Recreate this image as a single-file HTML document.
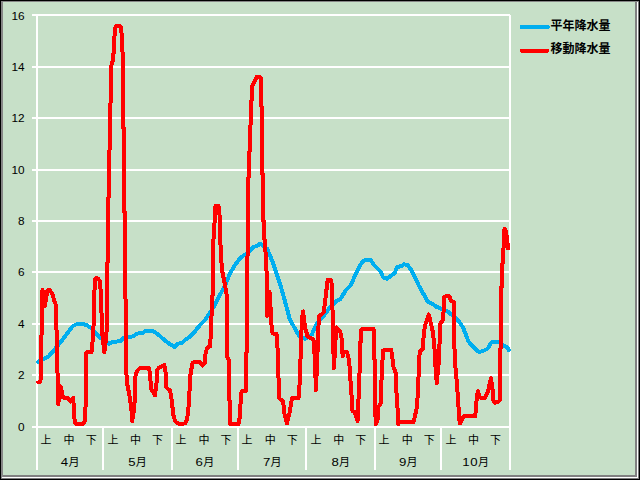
<!DOCTYPE html>
<html><head><meta charset="utf-8"><title>chart</title>
<style>
html,body{margin:0;padding:0;background:#c7e0c8;}
body{width:640px;height:480px;overflow:hidden;position:relative;font-family:"Liberation Sans",sans-serif;}
svg{position:absolute;left:0;top:0;display:block}
.num{font-family:"Liberation Sans",sans-serif;font-size:11.8px;fill:#000}
.mnum{font-family:"Liberation Sans",sans-serif;font-size:11px;fill:#000}
.leg{font-family:"Liberation Sans","Noto Sans CJK JP",sans-serif;font-size:12px;fill:#000;font-weight:bold}
.jp{font-family:"Liberation Sans","Noto Sans CJK JP",sans-serif;font-size:11px;fill:#000}
</style></head><body>
<svg width="640" height="480" viewBox="0 0 640 480">
<rect x="0" y="0" width="640" height="480" fill="#c7e0c8"/>
<rect x="32" y="14" width="478" height="2" fill="#fff"/>
<rect x="32" y="66" width="478" height="2" fill="#fff"/>
<rect x="32" y="117" width="478" height="2" fill="#fff"/>
<rect x="32" y="169" width="478" height="2" fill="#fff"/>
<rect x="32" y="220" width="478" height="2" fill="#fff"/>
<rect x="32" y="271" width="478" height="2" fill="#fff"/>
<rect x="32" y="323" width="478" height="2" fill="#fff"/>
<rect x="32" y="374" width="478" height="2" fill="#fff"/>
<rect x="32" y="426" width="478" height="2" fill="#fff"/>
<rect x="36" y="14" width="2" height="456" fill="#fff"/>
<rect x="509" y="15" width="2" height="455" fill="#fff"/>
<rect x="102" y="428" width="2" height="42" fill="#fff"/>
<rect x="171" y="428" width="2" height="42" fill="#fff"/>
<rect x="237" y="428" width="2" height="42" fill="#fff"/>
<rect x="305" y="428" width="2" height="42" fill="#fff"/>
<rect x="374" y="428" width="2" height="42" fill="#fff"/>
<rect x="440" y="428" width="2" height="42" fill="#fff"/>
<polyline shape-rendering="crispEdges" fill="none" stroke="#00aeef" stroke-width="4.00" stroke-linejoin="round" stroke-linecap="round" points="38.10,361.90 43.50,359.00 48.75,356.25 55.00,349.00 61.25,341.25 66.00,335.00 72.50,326.25 76.00,324.50 80.00,323.75 83.00,324.00 86.25,325.00 91.25,328.00 95.00,332.00 100.00,337.50 104.50,341.00 108.75,343.75 112.50,341.90 120.00,341.25 123.75,338.00 128.00,337.00 133.75,336.25 136.25,333.75 142.50,333.00 145.00,331.25 153.75,331.50 158.75,335.00 165.00,340.60 171.25,345.00 174.40,346.90 177.50,343.75 181.90,343.00 185.60,339.40 188.75,337.50 195.00,331.25 200.00,325.00 205.00,320.00 213.75,307.00 220.30,294.40 226.60,281.90 229.70,274.00 235.20,264.70 240.60,257.70 245.30,254.50 250.00,250.60 253.90,246.70 257.00,246.00 260.20,243.60 262.50,245.20 267.20,249.00 271.90,260.00 276.60,274.00 281.25,288.00 285.20,302.20 287.30,309.80 289.60,318.60 291.00,321.20 295.30,329.40 299.40,336.25 305.00,338.75 311.90,334.40 315.00,327.50 317.50,322.50 322.50,317.50 330.00,307.50 336.25,301.25 340.00,299.50 346.25,289.70 351.00,285.00 355.60,274.00 359.50,266.25 363.40,260.80 366.50,259.70 370.50,260.00 374.40,265.50 380.60,271.70 383.00,277.20 386.90,278.75 392.30,274.80 394.70,273.30 397.00,267.00 401.00,266.25 404.00,264.40 407.20,264.70 410.30,268.60 415.00,277.50 419.00,286.00 424.70,296.10 427.50,301.70 431.70,303.40 436.60,306.90 441.25,308.75 447.50,311.25 451.25,314.40 457.50,319.40 458.75,321.25 463.10,327.50 466.90,337.50 468.75,341.90 473.75,347.50 478.75,351.90 482.50,351.25 487.50,348.75 491.25,342.50 493.75,341.90 498.75,341.90 503.75,345.60 507.50,347.50 508.75,350.00"/>
<polyline shape-rendering="crispEdges" fill="none" stroke="#ff0000" stroke-width="4.00" stroke-linejoin="round" stroke-linecap="round" points="38.20,382.50 40.40,381.50 41.00,374.00 41.30,345.00 41.80,320.00 42.00,292.00 42.50,290.00 44.80,306.50 47.30,291.00 48.20,290.00 49.80,290.30 52.30,293.50 54.40,301.00 56.20,306.00 56.30,320.00 57.20,360.00 57.80,385.00 58.20,404.00 60.60,386.50 63.10,397.50 67.50,398.20 70.60,401.50 73.10,397.80 73.90,408.00 74.60,421.00 75.50,423.50 83.80,423.50 85.20,420.00 85.70,400.00 86.20,375.00 86.30,353.00 87.20,352.00 91.50,352.00 92.30,350.00 92.60,338.00 93.60,325.00 94.30,301.00 94.70,281.00 95.60,278.30 97.60,278.30 99.60,280.50 100.40,286.00 100.80,296.00 101.30,306.00 101.90,325.00 102.60,337.00 104.40,352.30 106.20,337.00 106.90,325.00 107.00,264.00 108.20,261.00 108.30,198.00 109.00,196.00 109.00,151.00 110.00,149.00 110.00,104.00 111.00,102.00 111.20,66.00 112.00,63.00 113.00,60.00 113.80,50.00 114.40,37.00 115.20,28.00 116.60,25.90 119.40,25.90 120.80,27.50 121.60,34.00 122.20,46.00 122.80,58.00 122.80,127.00 123.90,128.50 123.90,211.00 124.90,212.50 125.00,265.00 125.90,325.00 126.25,370.00 126.90,382.50 129.40,395.00 131.25,407.50 132.25,421.00 134.40,407.50 135.00,382.50 135.70,373.50 138.00,370.00 140.00,368.10 148.75,368.10 149.70,372.00 151.25,388.75 155.00,395.50 156.60,382.50 157.10,370.50 158.75,368.00 164.40,365.20 165.40,370.00 166.25,387.50 170.00,390.50 171.90,401.00 173.10,413.75 175.00,421.00 177.50,423.30 181.25,424.30 185.00,423.30 187.00,420.00 188.30,410.00 189.40,395.00 190.00,377.50 191.25,370.00 192.50,363.00 194.00,362.00 199.40,362.00 202.50,365.50 205.00,362.50 205.60,352.50 207.50,347.50 210.00,346.25 210.60,337.50 211.25,320.00 212.10,308.00 213.10,278.00 213.10,246.00 214.40,225.00 215.00,215.00 215.10,207.00 215.60,205.80 218.20,205.80 218.70,207.00 219.00,213.00 220.00,217.00 220.00,230.00 220.60,247.50 221.25,260.00 222.50,272.50 225.00,285.00 226.90,296.00 226.90,320.00 227.50,357.50 228.75,360.00 229.20,380.00 229.40,400.00 230.40,402.50 230.40,424.20 238.50,424.20 239.40,420.00 240.60,402.50 241.25,392.50 242.20,391.00 245.60,391.00 246.25,389.00 246.25,353.00 246.90,351.50 246.90,262.00 248.10,250.00 248.10,178.50 249.40,176.50 249.40,152.00 250.30,150.00 250.30,125.50 251.20,123.50 251.20,101.50 252.00,100.00 252.00,87.00 253.00,84.50 256.60,77.10 259.80,76.90 261.00,78.50 261.00,106.00 261.90,107.50 261.90,173.00 262.80,174.50 262.80,220.00 263.90,221.50 263.90,239.00 265.00,240.50 265.90,260.00 266.90,277.50 267.10,316.00 269.60,292.00 271.25,320.00 271.90,332.00 273.00,333.50 276.50,333.80 277.50,347.50 278.10,357.50 278.10,370.00 278.75,382.50 279.40,398.50 283.10,401.25 284.40,413.75 286.90,423.50 289.40,413.75 291.25,402.50 292.00,398.20 298.50,398.20 299.50,385.00 300.00,370.00 300.00,360.00 301.25,357.50 301.25,337.50 301.90,320.00 303.10,311.40 305.00,327.50 307.50,336.25 311.90,338.75 313.50,340.00 315.00,360.00 315.90,390.40 317.30,357.00 318.20,338.00 318.75,316.00 320.00,315.50 323.75,312.50 325.60,297.50 326.90,286.25 327.60,280.10 331.00,280.10 331.90,285.00 332.50,310.00 333.10,325.00 333.40,350.00 333.90,368.00 335.00,350.00 335.80,335.00 336.60,327.50 340.00,331.00 342.00,340.00 342.60,356.50 344.00,352.00 347.00,352.00 348.50,358.00 350.00,370.00 350.60,382.50 351.90,400.00 352.50,411.00 355.00,412.50 357.50,421.00 358.10,407.50 358.75,395.00 359.40,376.00 360.00,360.00 360.20,342.50 361.25,341.00 361.25,329.50 362.00,328.90 373.20,328.90 373.75,330.00 373.75,358.00 375.00,360.00 375.30,400.00 375.60,424.20 377.50,420.00 378.10,407.50 380.60,403.75 381.25,387.50 381.90,370.00 382.50,360.00 383.10,350.50 384.00,350.10 391.30,350.10 392.20,357.00 393.70,368.00 395.90,373.00 396.25,388.75 397.50,407.50 398.10,424.20 399.50,421.90 413.50,421.90 415.00,416.00 416.90,407.50 418.10,388.75 418.75,370.00 418.75,360.00 420.00,351.25 423.00,348.75 423.75,332.50 425.60,323.75 428.75,314.50 431.00,324.00 433.00,332.50 434.70,351.25 435.80,372.00 436.80,383.20 437.80,372.00 439.00,360.00 439.80,335.00 440.00,324.00 443.10,320.00 443.75,307.50 444.40,297.00 445.20,296.40 449.50,296.40 450.60,300.40 452.00,301.40 453.75,302.00 453.75,330.00 454.60,351.00 455.60,370.00 456.90,382.50 458.10,401.25 459.40,420.00 460.00,423.50 463.10,416.90 464.50,416.25 475.20,416.25 476.25,405.00 476.90,395.00 478.10,391.40 479.40,397.50 485.00,397.75 488.10,391.25 490.00,382.50 491.00,378.25 492.50,388.75 493.10,400.00 495.00,403.00 498.75,401.25 500.00,399.50 500.00,349.50 500.90,348.00 500.90,288.00 502.10,286.00 502.10,264.00 503.10,262.00 503.10,249.00 503.90,247.00 504.50,228.70 505.80,231.00 506.70,236.00 507.50,243.00 507.90,248.40"/>
<line shape-rendering="crispEdges" x1="521.8" y1="27" x2="547.8" y2="27" stroke="#00aeef" stroke-width="4" stroke-linecap="round"/>
<line shape-rendering="crispEdges" x1="521.8" y1="50.8" x2="547.0" y2="50.8" stroke="#ff0000" stroke-width="4" stroke-linecap="round"/>
<text x="550.4" y="30" class="leg">平年降水量</text>
<text x="550.4" y="53.3" class="leg">移動降水量</text>
<text x="24.5" y="20.1" text-anchor="end" class="num">16</text>
<text x="24.5" y="71.2" text-anchor="end" class="num">14</text>
<text x="24.5" y="122.2" text-anchor="end" class="num">12</text>
<text x="24.5" y="174.2" text-anchor="end" class="num">10</text>
<text x="24.5" y="225.2" text-anchor="end" class="num">8</text>
<text x="24.5" y="276.2" text-anchor="end" class="num">6</text>
<text x="24.5" y="328.2" text-anchor="end" class="num">4</text>
<text x="24.5" y="379.2" text-anchor="end" class="num">2</text>
<text x="24.5" y="431.2" text-anchor="end" class="num">0</text>
<text x="40.6" y="444" class="jp">上</text>
<text x="63.6" y="444" class="jp">中</text>
<text x="85.7" y="444" class="jp">下</text>
<text transform="translate(64.45 466) scale(1.2 1)" x="0" y="0" text-anchor="middle" class="mnum">4</text>
<text x="68.4" y="466" class="jp">月</text>
<text x="107.6" y="444" class="jp">上</text>
<text x="129.9" y="444" class="jp">中</text>
<text x="152" y="444" class="jp">下</text>
<text transform="translate(131.85 466) scale(1.2 1)" x="0" y="0" text-anchor="middle" class="mnum">5</text>
<text x="135.8" y="466" class="jp">月</text>
<text x="175.6" y="444" class="jp">上</text>
<text x="198.4" y="444" class="jp">中</text>
<text x="220.5" y="444" class="jp">下</text>
<text transform="translate(199.26 466) scale(1.2 1)" x="0" y="0" text-anchor="middle" class="mnum">6</text>
<text x="203.2" y="466" class="jp">月</text>
<text x="241.6" y="444" class="jp">上</text>
<text x="264.7" y="444" class="jp">中</text>
<text x="286.8" y="444" class="jp">下</text>
<text transform="translate(266.66 466) scale(1.2 1)" x="0" y="0" text-anchor="middle" class="mnum">7</text>
<text x="270.6" y="466" class="jp">月</text>
<text x="310.6" y="444" class="jp">上</text>
<text x="333.2" y="444" class="jp">中</text>
<text x="355.3" y="444" class="jp">下</text>
<text transform="translate(335.18 466) scale(1.2 1)" x="0" y="0" text-anchor="middle" class="mnum">8</text>
<text x="339.1" y="466" class="jp">月</text>
<text x="378.6" y="444" class="jp">上</text>
<text x="401.7" y="444" class="jp">中</text>
<text x="423.8" y="444" class="jp">下</text>
<text transform="translate(402.58 466) scale(1.2 1)" x="0" y="0" text-anchor="middle" class="mnum">9</text>
<text x="406.5" y="466" class="jp">月</text>
<text x="445.6" y="444" class="jp">上</text>
<text x="468" y="444" class="jp">中</text>
<text x="490.1" y="444" class="jp">下</text>
<text transform="translate(465.99 466) scale(1.2 1)" x="0" y="0" text-anchor="middle" class="mnum">1</text>
<text transform="translate(473.99 466) scale(1.2 1)" x="0" y="0" text-anchor="middle" class="mnum">0</text>
<text x="477.9" y="466" class="jp">月</text>
<!-- frame -->
<rect x="1" y="1" width="638" height="1" fill="#868686"/>
<rect x="1" y="1" width="2" height="477" fill="#868686"/>
<rect x="635" y="2" width="2" height="475" fill="#808080"/>
<rect x="3" y="475" width="634" height="2" fill="#808080"/>
<rect x="637" y="2" width="1" height="476" fill="#fff"/>
<rect x="2" y="477" width="636" height="1" fill="#fff"/>
<rect x="638" y="1" width="1" height="478" fill="#7a7a7a"/>
<rect x="1" y="478" width="638" height="1" fill="#7a7a7a"/>
<rect x="0" y="0" width="640" height="1" fill="#000"/>
<rect x="0" y="0" width="1" height="480" fill="#000"/>
<rect x="639" y="0" width="1" height="480" fill="#000"/>
<rect x="0" y="479" width="640" height="1" fill="#000"/>
</svg>
</body></html>
